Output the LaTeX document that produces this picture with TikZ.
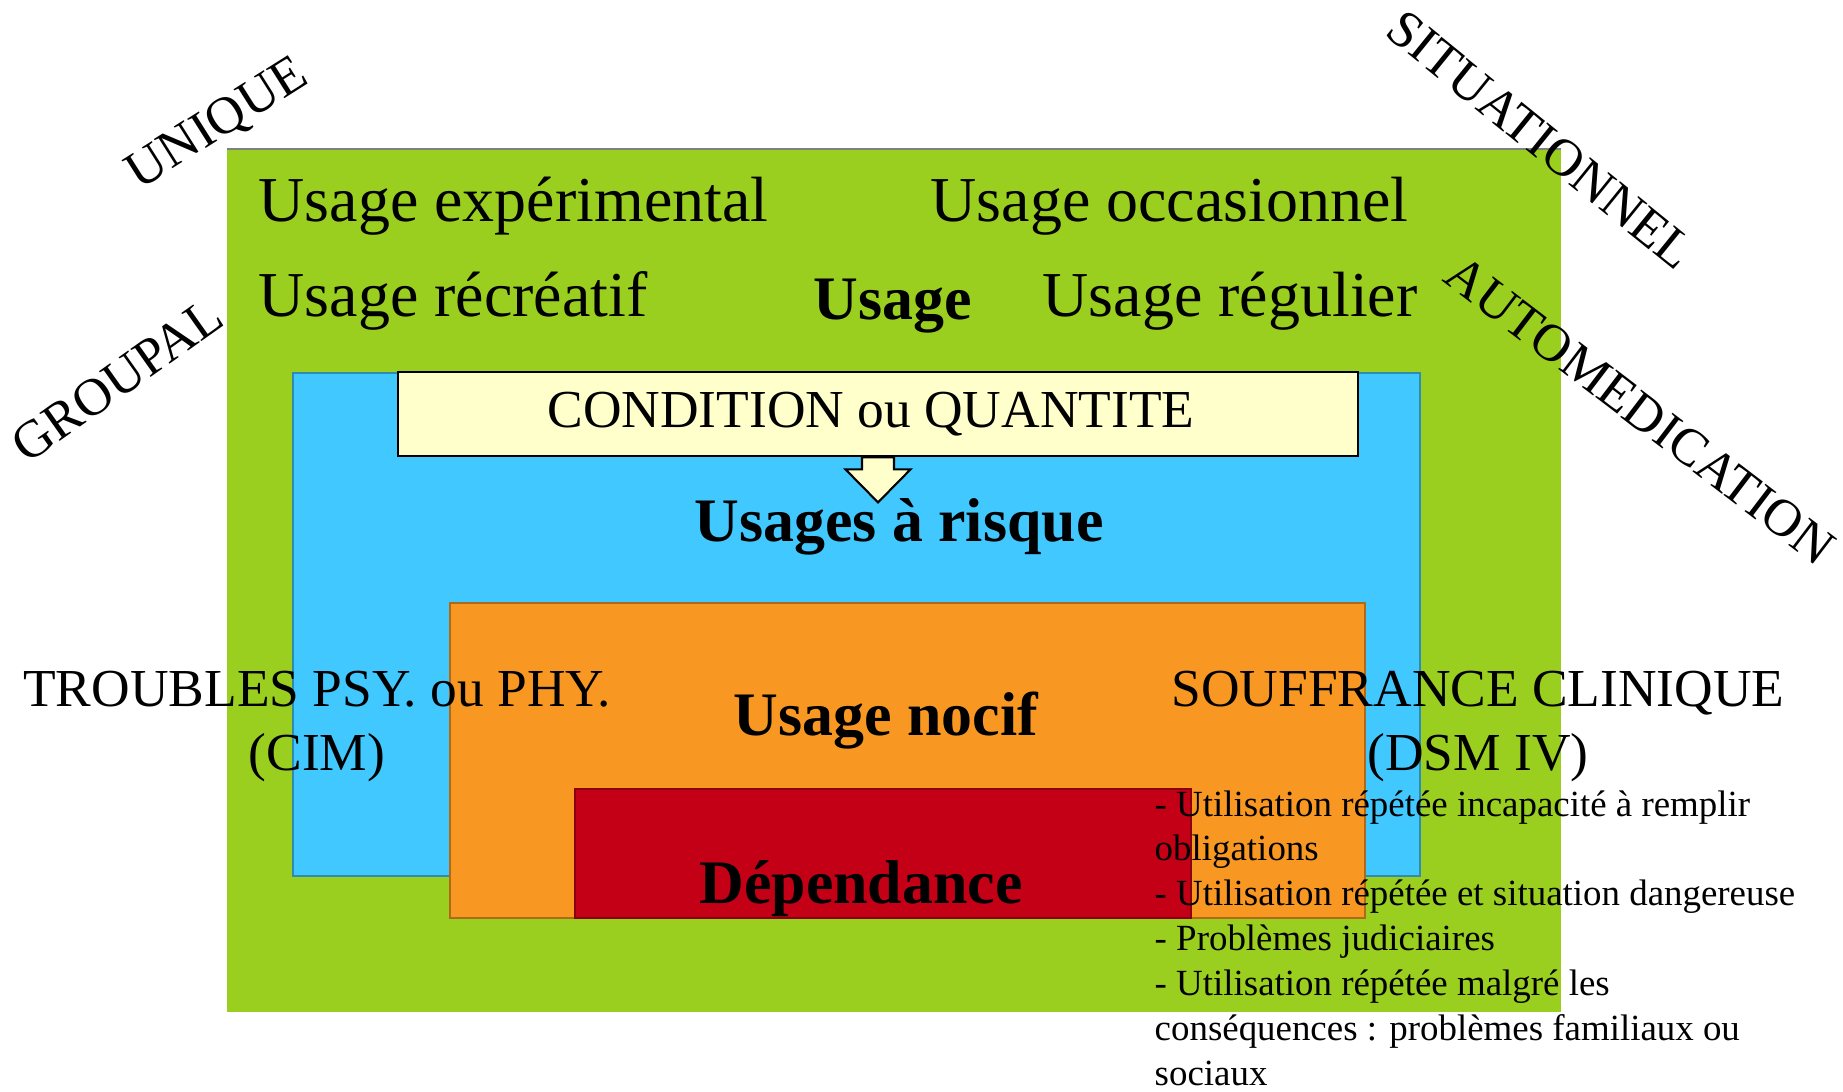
\documentclass[tikz,border=0pt]{standalone}
\usepackage{fontspec}
\setmainfont{Liberation Serif}
\definecolor{vert}{RGB}{155,207,31}
\definecolor{bleu}{RGB}{64,200,255}
\definecolor{orange}{RGB}{248,152,34}
\definecolor{rouge}{RGB}{196,0,22}
\definecolor{creme}{RGB}{255,255,204}
\begin{document}
\begin{tikzpicture}[
			usage/.style={anchor=base west, inner sep=0pt, font=\fontsize{18.2}{21}\selectfont},
			titre/.style={anchor=base, inner sep=0pt, font=\bfseries\fontsize{17.6}{20}\selectfont},
			axe/.style={inner sep=0pt, font=\fontsize{15}{18}\selectfont},
			critere/.style={anchor=base, align=center, inner sep=0pt, font=\fontsize{15.2}{18.2}\selectfont}
		]
		\useasboundingbox (0,0) rectangle (18.43,10.91);
		\fill[vert] (2.27,0.79) rectangle (15.61,9.42);
		\draw[gray, line width=0.6pt] (2.27,9.42) -- (15.61,9.42);
		\filldraw[fill=bleu, draw=bleu!70!black, line width=0.4pt] (2.93,2.15) rectangle (14.20,7.18);
		\filldraw[fill=orange, draw=orange!70!black, line width=0.4pt] (4.50,1.73) rectangle (13.65,4.88);
		\filldraw[fill=rouge, draw=rouge!70!black, line width=0.4pt] (5.75,1.73) rectangle (11.91,3.02);
		\node[draw=black, line width=0.8pt, fill=creme, minimum width=9.6cm, minimum height=0.84cm, inner sep=0pt, font=\fontsize{15.2}{18}\selectfont] (cond) at (8.78,6.77) {\hspace*{-0.14cm}CONDITION ou QUANTITE};
		\filldraw[fill=creme, draw=black, line width=0.6pt] ([xshift=-0.16cm]cond.south) -- ++(0,-0.12) -- ++(-0.165,0) -- ([yshift=-0.45cm]cond.south) -- ([xshift=0.325cm, yshift=-0.12cm]cond.south) -- ++(-0.165,0) -- ([xshift=0.16cm]cond.south) -- cycle;
		\node[usage] (exp) at (2.58,8.69) {Usage expérimental};
		\node[usage] (occ) at (9.30,8.69) {Usage occasionnel};
		\node[usage] (rec) at (2.58,7.74) {Usage récréatif};
		\node[usage] (reg) at (10.42,7.74) {Usage régulier};
		\node[titre] (usage) at (8.93,7.71) {Usage};
		\node[titre] (risque) at (8.99,5.49) {Usages à risque};
		\node[titre] (nocif) at (8.86,3.56) {Usage nocif};
		\node[titre] (dep) at (8.61,1.88) {Dépendance};
		\node[axe, rotate=32.3] (unique) at (2.18,9.66) {UNIQUE};
		\node[axe, rotate=35.3] (groupal) at (1.17,7.11) {GROUPAL};
		\node[axe, rotate=-39] (situ) at (15.41,9.51) {SITUATIONNEL};
		\node[axe, rotate=-37.3] (auto) at (16.40,6.81) {AUTOMEDICATION};
		\node[critere] (cim) at (3.17,3.21) {TROUBLES PSY. ou PHY.\\(CIM)};
		\node[critere] (dsm) at (14.78,3.21) {SOUFFRANCE CLINIQUE\\(DSM IV)};
		\node[anchor=base west, align=left, inner sep=0pt, font=\fontsize{10.5}{12.75}\selectfont] (liste) at (11.54,0.06) {- Utilisation répétée incapacité à remplir\\obligations\\- Utilisation répétée et situation dangereuse\\- Problèmes judiciaires\\- Utilisation répétée malgré les\\conséquences : problèmes familiaux ou\\sociaux};
	\end{tikzpicture}
\end{document}
